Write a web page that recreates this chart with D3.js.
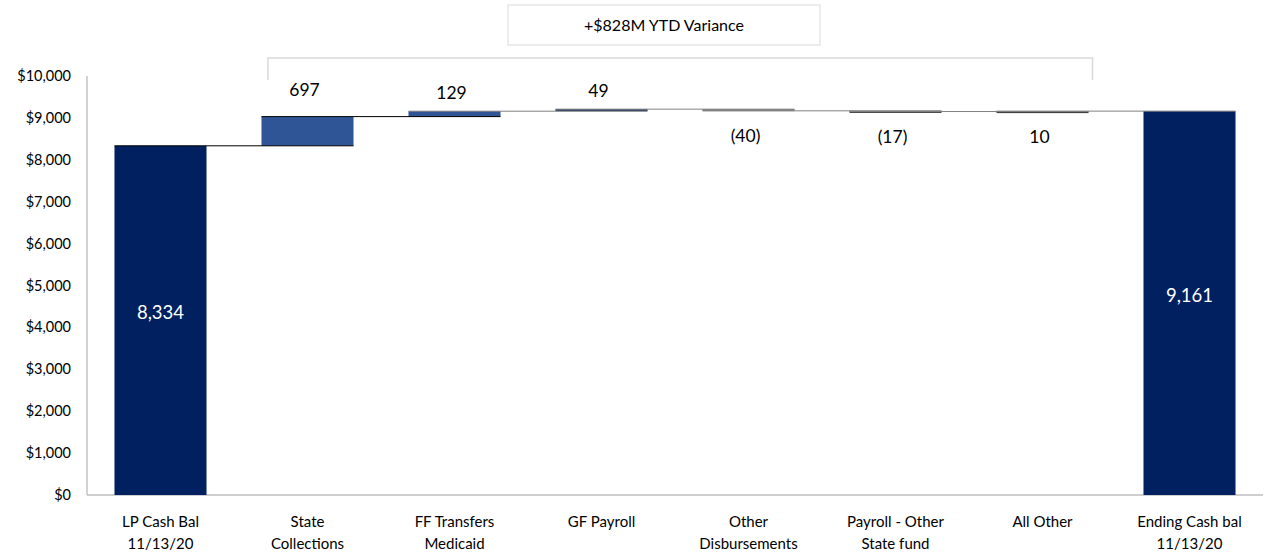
<!DOCTYPE html>
<html>
<head>
<meta charset="utf-8">
<script src="https://cdn.jsdelivr.net/npm/d3@7"></script>
<style>
  body { margin: 0; background: #fff; }
  text { font-family: Lato, "Open Sans", sans-serif; }
</style>
</head>
<body>
<div class="chart"></div>
<script>
var categories = [["LP Cash Bal", "11/13/20"], ["State", "Collections"], ["FF Transfers", "Medicaid"], ["GF Payroll"],
                  ["Other", "Disbursements"], ["Payroll - Other", "State fund"], ["All Other"], ["Ending Cash bal", "11/13/20"]];
var values = [8334, 697, 129, 49, -40, -17, 10, 9161];
var isTotal = [true, false, false, false, false, false, false, true];
var labels = ["8,334", "697", "129", "49", "(40)", "(17)", "10", "9,161"];
var yTicks = [0, 1000, 2000, 3000, 4000, 5000, 6000, 7000, 8000, 9000, 10000];
var noteText = "+$828M YTD Variance";

var colors = ["#002060", "#2f5597", "#2f5597", "#1f3864", "#7f7f7f", "#262626", "#404040", "#002060"];

var width = 1269, height = 554;
var margin = {left: 87, right: 6, top: 76, bottom: 59};

var svg = d3.select("body div.chart").append("svg").attr("width", width).attr("height", height);

var x = d3.scaleBand()
            .domain(d3.range(categories.length))
            .range([margin.left, width - margin.right])
            .paddingInner(0.374).paddingOuter(0.187);

var y = d3.scaleLinear()
            .domain([0, 10000])
            .range([height - margin.bottom, margin.top]);

// running totals
var steps = [];
var run = 0;
values.forEach(function(v, i) {
    if (isTotal[i]) { steps.push({start: 0, end: v}); run = v; }
    else { steps.push({start: run, end: run + v}); run += v; }
});

// y axis labels
svg.selectAll("text.ytick")
    .data(yTicks)
    .enter().append("text")
        .attr("class", "ytick")
        .attr("x", margin.left - 16)
        .attr("y", function(d) { return y(d); })
        .attr("dy", "0.35em")
        .attr("text-anchor", "end")
        .attr("font-size", 14.5)
        .attr("fill", "#000")
        .text(function(d) { return d3.format("$,")(d); });

svg.append("line")
    .attr("x1", margin.left).attr("x2", margin.left)
    .attr("y1", y(10000)).attr("y2", y(0))
    .attr("stroke", "#a6a6a6");

svg.append("line")
    .attr("x1", margin.left).attr("x2", width - margin.right)
    .attr("y1", y(0)).attr("y2", y(0))
    .attr("stroke", "#bfbfbf").attr("stroke-width", 1.5);

// bars
svg.selectAll("rect.bar")
    .data(steps)
    .enter().append("rect")
        .attr("class", "bar")
        .attr("x", function(d, i) { return x(i); })
        .attr("width", x.bandwidth())
        .attr("y", function(d) { return y(Math.max(d.start, d.end)); })
        .attr("height", function(d) { return Math.max(2, Math.abs(y(d.start) - y(d.end))); })
        .attr("fill", function(d, i) { return colors[i]; });

// connectors
svg.selectAll("line.conn")
    .data(steps.slice(0, -1))
    .enter().append("line")
        .attr("class", "conn")
        .attr("x1", function(d, i) { return x(i); })
        .attr("x2", function(d, i) { return x(i + 1) + x.bandwidth(); })
        .attr("y1", function(d) { return y(d.end); })
        .attr("y2", function(d) { return y(d.end); })
        .attr("stroke", function(d, i) { return i >= 2 ? "#808080" : "#000"; })
        .attr("stroke-width", 1);

// value labels
svg.selectAll("text.val")
    .data(steps)
    .enter().append("text")
        .attr("class", "val")
        .attr("x", function(d, i) { return x(i) + x.bandwidth() / 2 - (isTotal[i] ? 0 : 3); })
        .attr("y", function(d, i) {
            if (isTotal[i]) return y(d.end / 2) - 8;
            if (values[i] > 500) return y(Math.max(d.start, d.end)) - 27;
            if (values[i] > 20) return y(Math.max(d.start, d.end)) - 18;
            return y(Math.min(d.start, d.end)) + 25;
        })
        .attr("dy", "0.35em")
        .attr("text-anchor", "middle")
        .attr("font-size", function(d, i) { return isTotal[i] ? 18.5 : 17.5; })
        .attr("fill", function(d, i) { return isTotal[i] ? "#fff" : "#000"; })
        .text(function(d, i) { return labels[i]; });

// category labels
var cat = svg.selectAll("text.cat")
    .data(categories)
    .enter().append("text")
        .attr("class", "cat")
        .attr("text-anchor", "middle")
        .attr("font-size", 15)
        .attr("fill", "#000");
cat.selectAll("tspan")
    .data(function(d, i) { return d.map(function(t) { return {t: t, i: i}; }); })
    .enter().append("tspan")
        .attr("x", function(d) { return x(d.i) + x.bandwidth() / 2; })
        .attr("y", function(d, j) { return y(0) + 32 + j * 22; })
        .text(function(d) { return d.t; });

// variance bracket
var bx1 = x(1) + x.bandwidth() * 0.07, bx2 = x(6) + x.bandwidth() + 4;
svg.append("path")
    .attr("d", "M" + bx1 + "," + 80 + "V58H" + bx2 + "V80")
    .attr("fill", "none")
    .attr("stroke", "#d9d9d9")
    .attr("stroke-width", 1.5);

svg.append("rect")
    .attr("x", 508).attr("y", 5).attr("width", 312).attr("height", 40)
    .attr("fill", "#fff").attr("stroke", "#d9d9d9");

svg.append("text")
    .attr("x", 664).attr("y", 25).attr("dy", "0.35em")
    .attr("text-anchor", "middle")
    .attr("font-size", 16)
    .text(noteText);
</script>
</body>
</html>
